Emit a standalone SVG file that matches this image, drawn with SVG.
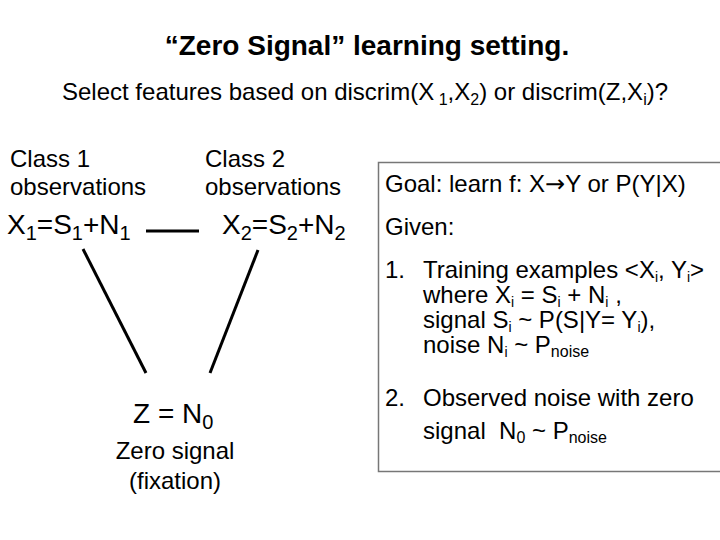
<svg xmlns="http://www.w3.org/2000/svg" width="720" height="540" viewBox="0 0 720 540">
<style>
text{font-family:"Liberation Sans",Arial,sans-serif;fill:#000}
.t{font-size:28px;font-weight:bold}
.s{font-size:24px}
.c{font-size:24px}
.x{font-size:28px}
.b{font-size:24px}
.sub{font-size:16px}
.si{font-size:14px}
.xs{font-size:20px}
.e{stroke:#000;stroke-width:3;fill:none}
.ar{font-family:"DejaVu Sans",sans-serif}
</style>
<rect width="720" height="540" fill="#fff"/>
<text class="t" x="367" y="55" text-anchor="middle">“Zero Signal” learning setting.</text>
<text class="s" x="62" y="100">Select features based on discrim(X<tspan class="sub" dy="5"> 1</tspan><tspan dy="-5">,X</tspan><tspan class="sub" dy="5">2</tspan><tspan dy="-5">) or discrim(Z,X</tspan><tspan class="sub" dy="5">i</tspan><tspan dy="-5">)?</tspan></text>
<g id="class1">
<text class="c" x="10" y="167">Class 1</text>
<text class="c" x="10" y="195">observations</text>
<text class="x" x="7" y="234">X<tspan class="xs" dy="6">1</tspan><tspan dy="-6">=S</tspan><tspan class="xs" dy="6">1</tspan><tspan dy="-6">+N</tspan><tspan class="xs" dy="6">1</tspan></text>
</g>
<g id="class2">
<text class="c" x="205" y="167">Class 2</text>
<text class="c" x="205" y="195">observations</text>
<text class="x" x="222" y="234">X<tspan class="xs" dy="6">2</tspan><tspan dy="-6">=S</tspan><tspan class="xs" dy="6">2</tspan><tspan dy="-6">+N</tspan><tspan class="xs" dy="6">2</tspan></text>
</g>
<g id="zero">
<text class="x" x="133" y="423">Z = N<tspan class="xs" dy="6">0</tspan></text>
<text class="b" x="175" y="459" text-anchor="middle">Zero signal</text>
<text class="b" x="175" y="489" text-anchor="middle">(fixation)</text>
</g>
<g id="connectors">
<line class="e" x1="146" y1="231" x2="199" y2="231"/>
<line class="e" x1="83" y1="249" x2="146" y2="373"/>
<line class="e" x1="258" y1="250" x2="210" y2="373"/>
</g>
<g id="box">
<path d="M721,162.5 H378.5 V471.5 H721" fill="none" stroke="#777" stroke-width="1.5"/>
<text class="b" x="385" y="192">Goal: learn f: X<tspan class="ar">→</tspan>Y or P(Y|X)</text>
<text class="b" x="385" y="235">Given:</text>
<text class="b" x="385" y="278">1.</text>
<text class="b" x="423" y="278">Training examples &lt;X<tspan class="si" dy="4">i</tspan><tspan dy="-4">, Y</tspan><tspan class="si" dy="4">i</tspan><tspan dy="-4">&gt;</tspan></text>
<text class="b" x="423" y="303">where X<tspan class="si" dy="4">i</tspan><tspan dy="-4"> = S</tspan><tspan class="si" dy="4">i</tspan><tspan dy="-4"> + N</tspan><tspan class="si" dy="4">i</tspan><tspan dy="-4"> ,</tspan></text>
<text class="b" x="423" y="328">signal S<tspan class="si" dy="4">i</tspan><tspan dy="-4"> ~ P(S|Y= Y</tspan><tspan class="si" dy="4">i</tspan><tspan dy="-4">),</tspan></text>
<text class="b" x="423" y="353">noise N<tspan class="si" dy="4">i</tspan><tspan dy="-4"> ~ P</tspan><tspan class="sub" dy="4">noise</tspan></text>
<text class="b" x="385" y="406">2.</text>
<text class="b" x="423" y="406">Observed noise with zero</text>
<text class="b" x="423" y="439">signal &#160;N<tspan class="sub" dy="4">0</tspan><tspan dy="-4"> ~ P</tspan><tspan class="sub" dy="4">noise</tspan></text>
</g>
</svg>
